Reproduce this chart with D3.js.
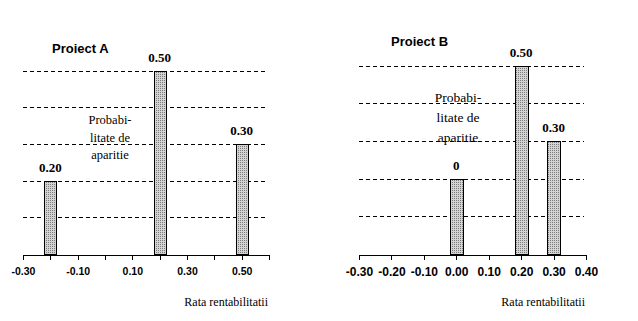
<!DOCTYPE html>
<html>
<head>
<meta charset="utf-8">
<script src="https://cdn.jsdelivr.net/npm/d3@7"></script>
<style>
  body { margin: 0; background: #fff; }
  svg { display: block; }
  .grid line { stroke: #000; stroke-dasharray: 4,3; shape-rendering: crispEdges; }
  .axis path, .axis line { stroke: #000; shape-rendering: crispEdges; }
  .axis text { font-family: Arial, "Liberation Sans", sans-serif; font-weight: bold; fill: #000; }
  .bar { stroke: #000; stroke-width: 1; shape-rendering: crispEdges; }
  .title { font-family: Arial, "Liberation Sans", sans-serif; font-weight: bold; font-size: 13px; }
  .serif { font-family: "Times New Roman", "Liberation Serif", serif; }
</style>
</head>
<body>
<svg width="638" height="321"></svg>
<script>
// Proiect A
var ratesA = [-0.20, 0.20, 0.50],
    probsA = [0.20, 0.50, 0.30],
    labelsA = ["0.20", "0.50", "0.30"],
    ticksA = [-0.30, -0.20, -0.10, 0.00, 0.10, 0.20, 0.30, 0.40, 0.50, 0.60],
    tickLabelsA = ["-0.30", "", "-0.10", "", "0.10", "", "0.30", "", "0.50", ""];

// Proiect B
var ratesB = [0.00, 0.20, 0.30],
    probsB = [0.20, 0.50, 0.30],
    labelsB = ["0", "0.50", "0.30"],
    ticksB = [-0.30, -0.20, -0.10, 0.00, 0.10, 0.20, 0.30, 0.40],
    tickLabelsB = ["-0.30", "-0.20", "-0.10", "0.00", "0.10", "0.20", "0.30", "0.40"];

var gridValues = [0.1, 0.2, 0.3, 0.4, 0.5];

var svg = d3.select("svg");

var defs = svg.append("defs");
var pat = defs.append("pattern")
    .attr("id", "dots")
    .attr("width", 2).attr("height", 2)
    .attr("patternUnits", "userSpaceOnUse");
pat.append("rect").attr("width", 2).attr("height", 2).attr("fill", "#d4d4d4");
pat.append("rect").attr("width", 1).attr("height", 1).attr("fill", "#7a7a7a");

function panel(opt) {
  var x = d3.scaleLinear().domain(opt.xDomain).range(opt.xRange),
      y = d3.scaleLinear().domain([0, 0.5]).range(opt.yRange);

  var g = svg.append("g");

  g.append("g")
      .attr("class", "grid")
    .selectAll("line")
    .data(gridValues)
    .enter().append("line")
      .attr("x1", opt.xRange[0])
      .attr("x2", opt.xRange[1] - 2)
      .attr("y1", function(d) { return Math.round(y(d)) + 0.5; })
      .attr("y2", function(d) { return Math.round(y(d)) + 0.5; });

  var xAxis = d3.axisBottom(x)
      .tickValues(opt.ticks)
      .tickSize(5)
      .tickSizeOuter(0)
      .tickPadding(8)
      .tickFormat(function(d, i) { return opt.tickLabels[i]; });

  var ax = g.append("g")
      .attr("class", "axis")
      .attr("transform", "translate(0," + (Math.round(y(0)) + 0.5) + ")")
      .call(xAxis);
  ax.selectAll("text").style("font-size", opt.tickFont + "px");

  g.selectAll(".bar")
    .data(opt.rates)
    .enter().append("rect")
      .attr("class", "bar")
      .attr("fill", "url(#dots)")
      .attr("x", function(d) { return Math.round(x(d) - opt.barWidth / 2) + 0.5; })
      .attr("y", function(d, i) { return Math.round(y(opt.probs[i])) + 0.5; })
      .attr("width", opt.barWidth)
      .attr("height", function(d, i) { return Math.round(y(0)) - Math.round(y(opt.probs[i])); });

  g.selectAll(".val")
    .data(opt.rates)
    .enter().append("text")
      .attr("class", "serif")
      .attr("x", function(d) { return x(d); })
      .attr("y", function(d, i) { return y(opt.probs[i]) - 9; })
      .attr("text-anchor", "middle")
      .style("font-weight", "bold")
      .style("font-size", "13px")
      .text(function(d, i) { return opt.labels[i]; });

  g.append("text")
      .attr("class", "title")
      .attr("x", opt.titlePos[0])
      .attr("y", opt.titlePos[1])
      .text(opt.title);

  var note = g.append("text")
      .attr("class", "serif")
      .attr("text-anchor", "middle")
      .style("font-size", opt.noteFont + "px");
  ["Probabi-", "litate de", "aparitie"].forEach(function(s, i) {
    note.append("tspan")
        .attr("x", opt.notePos[0])
        .attr("y", opt.notePos[1] + i * opt.noteStep)
        .text(s);
  });

  g.append("text")
      .attr("class", "serif")
      .attr("text-anchor", "end")
      .attr("x", opt.xRange[1] - 1)
      .attr("y", 306)
      .style("font-size", "12px")
      .text("Rata rentabilitatii");
}

panel({
  xDomain: [-0.30, 0.60], xRange: [23, 269], yRange: [254, 70.7],
  rates: ratesA, probs: probsA, labels: labelsA,
  ticks: ticksA, tickLabels: tickLabelsA, tickFont: 10.5,
  barWidth: 12, title: "Proiect A", titlePos: [52, 53],
  notePos: [110, 124], noteStep: 17.5, noteFont: 12.5
});

panel({
  xDomain: [-0.30, 0.40], xRange: [359, 586], yRange: [253.7, 65.7],
  rates: ratesB, probs: probsB, labels: labelsB,
  ticks: ticksB, tickLabels: tickLabelsB, tickFont: 12,
  barWidth: 13, title: "Proiect B", titlePos: [391, 46],
  notePos: [458, 102], noteStep: 20, noteFont: 13.5
});
</script>
</body>
</html>
